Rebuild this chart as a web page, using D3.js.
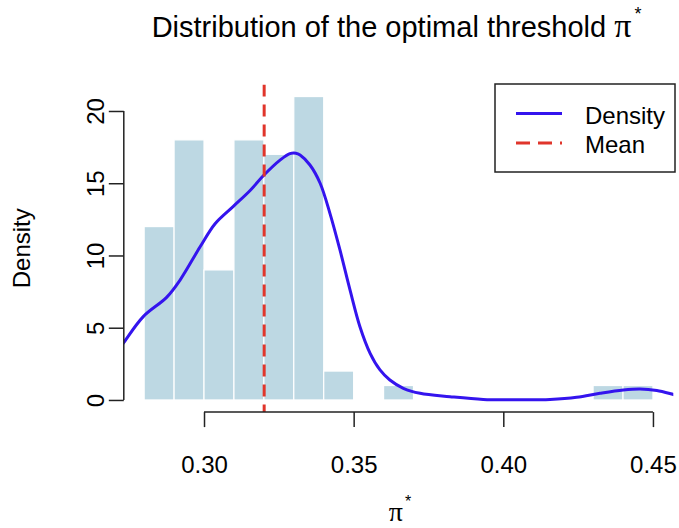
<!DOCTYPE html>
<html>
<head>
<meta charset="utf-8">
<script src="https://cdn.jsdelivr.net/npm/d3@7"></script>
<style>
  html, body { margin: 0; padding: 0; background: #fff; }
  svg { display: block; font-family: "Liberation Sans", Arial, sans-serif; }
</style>
</head>
<body>
<svg id="chart" width="679" height="528"></svg>
<script>
// Histogram bins (left edge, width 0.01) and their densities
const binStarts = [0.28, 0.29, 0.30, 0.31, 0.32, 0.33, 0.34, 0.35, 0.36,
                   0.37, 0.38, 0.39, 0.40, 0.41, 0.42, 0.43, 0.44];
const binDensity = [12, 18, 9, 18, 17, 21, 2, 0, 1, 0, 0, 0, 0, 0, 0, 1, 1];
const binWidth = 0.01;

// Kernel density estimate of the threshold
const kdeX = [0.2715, 0.2730, 0.2797, 0.2875, 0.2920, 0.2987, 0.3037, 0.3098,
              0.3154, 0.3202, 0.3254, 0.3287, 0.3307, 0.3321, 0.3354, 0.3388,
              0.3421, 0.3454, 0.3488, 0.3521, 0.3555, 0.3588, 0.3621, 0.3666,
              0.3722, 0.3822, 0.3933, 0.4040, 0.4156, 0.4245, 0.4323, 0.4401,
              0.4457, 0.4513, 0.4574, 0.4590];
const kdeY = [3.5, 3.92, 5.77, 7.1, 8.3, 10.6, 12.2, 13.4,
              14.5, 15.6, 16.6, 17.05, 17.08, 16.95, 16.26, 15.0,
              12.9, 10.4, 7.6, 5.07, 3.23, 2.08, 1.38, 0.81,
              0.46, 0.23, 0.04, 0.02, 0.04, 0.18, 0.46, 0.69,
              0.76, 0.65, 0.35, 0.28];

const meanValue = 0.3201;

const xTicks = [0.30, 0.35, 0.40, 0.45];
const yTicks = [0, 5, 10, 15, 20];

const legendLabels = ["Density", "Mean"];

const colBar = "#bdd8e3";
const colDensity = "#3414ee";
const colMean = "#e0352b";
const colAxis = "#222";

const svg = d3.select("#chart");

// Plot region
const pLeft = 123.8, pRight = 673.3, pTop = 84.4, pBottom = 412.1;

const x = d3.scaleLinear().domain([0.2732, 0.4568]).range([pLeft, pRight]);
const y = d3.scaleLinear().domain([-0.84, 21.84]).range([pBottom, pTop]);

svg.append("defs").append("clipPath").attr("id", "plotClip")
  .append("rect")
  .attr("x", pLeft).attr("y", pTop)
  .attr("width", pRight - pLeft).attr("height", pBottom - pTop);

const plot = svg.append("g").attr("clip-path", "url(#plotClip)");

// Histogram bars
plot.selectAll("rect.bar")
  .data(binStarts.map((s, i) => ({ s, d: binDensity[i] })))
  .join("rect")
  .attr("class", "bar")
  .attr("x", d => x(d.s))
  .attr("width", d => x(d.s + binWidth) - x(d.s))
  .attr("y", d => y(d.d))
  .attr("height", d => y(0) - y(d.d))
  .attr("fill", colBar)
  .attr("stroke", d => d.d > 0 ? "#fff" : "none")
  .attr("stroke-width", 1.2);

// Density curve
const line = d3.line()
  .x(d => x(d[0]))
  .y(d => y(d[1]))
  .curve(d3.curveCatmullRom.alpha(0.5));

plot.append("path")
  .datum(kdeX.map((v, i) => [v, kdeY[i]]))
  .attr("d", line)
  .attr("fill", "none")
  .attr("stroke", colDensity)
  .attr("stroke-width", 3)
  .attr("stroke-linejoin", "round");

// Mean line
plot.append("line")
  .attr("x1", x(meanValue)).attr("x2", x(meanValue))
  .attr("y1", pTop).attr("y2", pBottom)
  .attr("stroke", colMean)
  .attr("stroke-width", 3)
  .attr("stroke-dasharray", "12 8");

// X axis
const xAxis = svg.append("g")
  .attr("transform", `translate(0,${pBottom})`)
  .call(d3.axisBottom(x).tickValues(xTicks).tickFormat(d3.format(".2f"))
    .tickSize(15).tickSizeOuter(0));
xAxis.select(".domain")
  .attr("d", `M${x(xTicks[0])},0H${x(xTicks[xTicks.length - 1])}`);
xAxis.selectAll("line, path").attr("stroke", colAxis).attr("stroke-width", 1.5);
xAxis.selectAll("text")
  .attr("y", 61).attr("dy", 0)
  .attr("font-size", 24).attr("fill", "#000")
  .attr("font-family", "Liberation Sans, Arial, sans-serif");

// Y axis
const yAxis = svg.append("g")
  .attr("transform", `translate(${pLeft},0)`)
  .call(d3.axisLeft(y).tickValues(yTicks).tickFormat(d3.format("d"))
    .tickSize(15).tickSizeOuter(0));
yAxis.select(".domain")
  .attr("d", `M0,${y(yTicks[0])}V${y(yTicks[yTicks.length - 1])}`);
yAxis.selectAll("line, path").attr("stroke", colAxis).attr("stroke-width", 1.5);
yAxis.selectAll(".tick text")
  .attr("x", 0).attr("dy", 0).attr("y", 0)
  .attr("text-anchor", "middle")
  .attr("transform", `translate(${104 - pLeft},0) rotate(-90)`)
  .attr("font-size", 24).attr("fill", "#000")
  .attr("font-family", "Liberation Sans, Arial, sans-serif");

// Title
const title = svg.append("text")
  .attr("x", (pLeft + pRight) / 2 - 2)
  .attr("y", 37)
  .attr("text-anchor", "middle")
  .attr("font-size", 29)
  .attr("fill", "#000");
title.append("tspan").text("Distribution of the optimal threshold ");
title.append("tspan").attr("font-family", "Liberation Serif, serif")
  .attr("font-size", 34).text("π");
title.append("tspan").attr("dx", 3).attr("dy", -17).attr("font-size", 18).text("*");

// Axis titles
const xlab = svg.append("text")
  .attr("x", 400).attr("y", 521)
  .attr("text-anchor", "middle")
  .attr("font-size", 24).attr("fill", "#000");
xlab.append("tspan").attr("font-family", "Liberation Serif, serif")
  .attr("font-size", 28).text("π");
xlab.append("tspan").attr("dx", 2).attr("dy", -14).attr("font-size", 16).text("*");

svg.append("text")
  .attr("transform", `translate(30,${(pTop + pBottom) / 2}) rotate(-90)`)
  .attr("text-anchor", "middle")
  .attr("font-size", 24).attr("fill", "#000")
  .text("Density");

// Legend
const lg = svg.append("g");
lg.append("rect")
  .attr("x", 495).attr("y", 84).attr("width", 180).attr("height", 88)
  .attr("fill", "#fff").attr("stroke", colAxis).attr("stroke-width", 1.5);
const legendRows = [
  { label: legendLabels[0], color: colDensity, dash: null, y: 113.5 },
  { label: legendLabels[1], color: colMean, dash: "14 8", y: 143 }
];
legendRows.forEach(r => {
  lg.append("line")
    .attr("x1", 516).attr("x2", 562)
    .attr("y1", r.y).attr("y2", r.y)
    .attr("stroke", r.color).attr("stroke-width", 3)
    .attr("stroke-dasharray", r.dash);
  lg.append("text")
    .attr("x", 585).attr("y", r.y + 10)
    .attr("font-size", 24).attr("fill", "#000")
    .text(r.label);
});
</script>
</body>
</html>
